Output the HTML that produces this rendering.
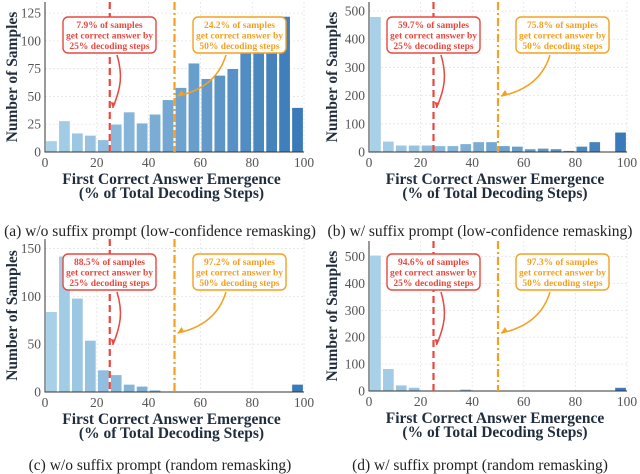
<!DOCTYPE html>
<html><head><meta charset="utf-8">
<style>
body{margin:0;background:#fff;}
svg{display:block;}
svg text{font-family:"Liberation Serif","DejaVu Serif",serif;}
</style></head>
<body>
<svg id="fig" width="640" height="474" viewBox="0 0 640 474" font-family="Liberation Serif, serif"></svg>
<script>
const binStarts=[0,5,10,15,20,25,30,35,40,45,50,55,60,65,70,75,80,85,90,95];
const valuesA=[10,28,17,15,11,25,36,26,34,47,58,80,66,69,75,92,98,104,122,40];
const valuesB=[480,38,24,24,24,22,22,29,36,36,22,20,11,13,11,5,20,36,0,70];
const valuesC=[84,142,98,54,23,18,8,6,2,0,0,0,0,0,0,0,0,0,0,8];
const valuesD=[505,83,22,13,0,0,0,6,0,0,0,0,0,0,0,0,0,0,0,13];
const ticksA=[0,25,50,75,100,125];
const ticksB=[0,100,200,300,400,500];
const ticksC=[0,50,100,150];
const ticksD=[0,100,200,300,400,500];
const xTicks=[0,20,40,60,80,100];
const notesRed=["7.9%","59.7%","88.5%","94.6%"];
const notesOrange=["24.2%","75.8%","97.2%","97.3%"];
const captions=["(a) w/o suffix prompt (low-confidence remasking)","(b) w/ suffix prompt (low-confidence remasking)","(c) w/o suffix prompt (random remasking)","(d) w/ suffix prompt (random remasking)"];

const NS="http://www.w3.org/2000/svg";
const svg=document.getElementById('fig');
const FF='Liberation Serif, DejaVu Serif, serif';
function mk(tag,attrs,parent,text){const e=document.createElementNS(NS,tag);for(const k in attrs)e.setAttribute(k,attrs[k]);if(tag==='text')e.setAttribute('font-family',FF);if(text!==undefined)e.textContent=text;(parent||svg).appendChild(e);return e;}
function lerp(a,b,t){return Math.round(a+(b-a)*t);}
function color(i){const t=i/19;return `rgb(${lerp(168,58,t)},${lerp(208,122,t)},${lerp(232,184,t)})`;}

const panels=[
 {vals:valuesA,ticks:ticksA,ymax:135,x0:45,x1:304,yb:152,yt:2,ox:0,oy:0,letter:'a',capY:236},
 {vals:valuesB,ticks:ticksB,ymax:532,x0:369,x1:627,yb:152,yt:2,ox:320,oy:0,letter:'b',capY:236},
 {vals:valuesC,ticks:ticksC,ymax:160,x0:45,x1:304,yb:392,yt:239,ox:0,oy:237,letter:'c',capY:470},
 {vals:valuesD,ticks:ticksD,ymax:558,x0:369,x1:627,yb:391,yt:241,ox:320,oy:237,letter:'d',capY:470}
];
panels.forEach((p,pi)=>{
 const g=mk('g',{});
 
 
 const X=v=>p.x0+(v/100)*(p.x1-p.x0);
 const Y=v=>p.yb-(v/p.ymax)*(p.yb-p.yt);
 p.ticks.forEach(t=>{const l=mk('line',{x1:p.x0,x2:p.x1,y1:Y(t),y2:Y(t),stroke:'#e4e4e4','stroke-dasharray':'2,2','stroke-width':0.8},g);
  
  const tl=mk('text',{x:p.x0-4,y:Y(t)+4.5,'text-anchor':'end','font-size':13.5,fill:'#555'},g,String(t));
  });
 xTicks.forEach(t=>{const l=mk('line',{x1:X(t),x2:X(t),y1:p.yt,y2:p.yb,stroke:'#e4e4e4','stroke-dasharray':'2,2','stroke-width':0.8},g);
  
  const tl=mk('text',{x:X(t),y:p.yb+15,'text-anchor':'middle','font-size':13.5,fill:'#555'},g,String(t));
  });
 p.vals.forEach((v,i)=>{if(v<=0)return;const x=X(binStarts[i]),w=X(binStarts[i]+5)-x;
  const r=mk('rect',{x:x+0.8,y:Y(v),width:w-1.6,height:p.yb-Y(v),fill:color(i),stroke:'#fff','stroke-width':0.6},g);
  });
 const ax=mk('path',{d:`M${p.x0},${p.yt} V${p.yb} H${p.x1}`,fill:'none',stroke:'#333','stroke-width':1},g);
 
 const vr=mk('line',{x1:X(25),x2:X(25),y1:p.yt,y2:p.yb,stroke:'#e8483f','stroke-width':2.2,'stroke-dasharray':'7,4'},g);
 
 const vo=mk('line',{x1:X(50),x2:X(50),y1:p.yt,y2:p.yb,stroke:'#f5a020','stroke-width':2.2,'stroke-dasharray':'8,3,2,3'},g);
 
 const by=p.oy+17, bh=36;
 const boxes=[{x:p.ox+(pi%2?67:63),c:'#e8483f',n:notesRed[pi],s:'25%',name:'annotation-25pct'},
              {x:p.ox+(pi%2?196:193),c:'#f5a020',n:notesOrange[pi],s:'50%',name:'annotation-50pct'}];
 boxes.forEach(b=>{
  const bg=mk('g',{},g);
  mk('rect',{x:b.x,y:by,width:93,height:bh,rx:5,fill:'#fff',stroke:b.c,'stroke-width':1.4},bg);
  const cx=b.x+46.5;
  mk('text',{x:cx,y:by+11,'text-anchor':'middle','font-size':9.5,'font-weight':'bold',fill:b.c},bg,b.n+' of samples');
  mk('text',{x:cx,y:by+21.5,'text-anchor':'middle','font-size':9.5,'font-weight':'bold',fill:b.c},bg,'get correct answer by');
  mk('text',{x:cx,y:by+32,'text-anchor':'middle','font-size':9.5,'font-weight':'bold',fill:b.c},bg,b.s+' decoding steps');
 });
 const rx0=p.ox+(pi%2?121:117), ry0=by+bh+2, rx1=X(25)+3, ry1=p.oy+108;
 const ar=mk('path',{d:`M${rx0},${ry0} C${rx0+6},${ry0+20} ${rx0+4},${ry1-20} ${rx1},${ry1}`,fill:'none',stroke:'#e8483f','stroke-width':1.5},g);
 
 mk('path',{d:`M${rx1},${ry1} l-2,-6 l5,1 z`,fill:'#e8483f'},g);
 const ox0=p.ox+(pi%2?230:226), oy0=by+bh+2, ox1=X(50)+3, oy1=p.oy+96;
 const ao=mk('path',{d:`M${ox0},${oy0} Q${ox0-10},${oy1-8} ${ox1},${oy1}`,fill:'none',stroke:'#f5a020','stroke-width':1.5},g);
 
 mk('path',{d:`M${ox1},${oy1} l7,-1 l-3,-5 z`,fill:'#f5a020'},g);
 const cx=(p.x0+p.x1)/2;
 const t1=mk('text',{x:cx-3,y:p.yb+32,'text-anchor':'middle','font-size':15.5,'font-weight':'bold',fill:'#1f2d3d'},g,'First Correct Answer Emergence');
 
 const t2=mk('text',{x:cx-3,y:p.yb+46,'text-anchor':'middle','font-size':15.5,'font-weight':'bold',fill:'#1f2d3d'},g,'(% of Total Decoding Steps)');
 
 const yc=(p.yt+p.yb)/2, yx=p.ox+17;
 const yl=mk('text',{x:yx,y:yc,'text-anchor':'middle','font-size':15.5,'font-weight':'bold',fill:'#1f2d3d',transform:`rotate(-90 ${yx} ${yc})`},g,'Number of Samples');
 
 const cap=mk('text',{x:p.ox+160,y:p.capY,'text-anchor':'middle','font-size':15.5,fill:'#222'},g,captions[pi]);
 
});
</script>
</body></html>
